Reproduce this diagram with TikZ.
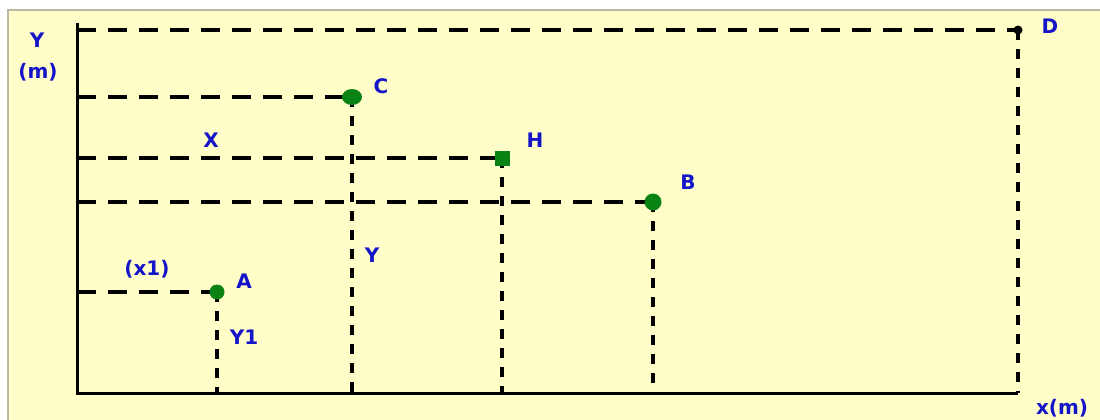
\documentclass[tikz,border=0pt]{standalone}
\usepackage{fontspec}
\setmainfont{DejaVu Sans}
\usetikzlibrary{shapes.geometric}
\begin{document}
\begin{tikzpicture}[x=1pt,y=-1pt,
  lbl/.style={text=lblblue,font=\bfseries\fontsize{20}{20}\selectfont,inner sep=0pt},
  hdash/.style={line width=3.4pt,dash pattern=on 19pt off 12pt},
  vdash/.style={line width=3.4pt,dash pattern=on 10pt off 9pt},
  axisline/.style={line width=3pt},
  gdot/.style={circle,fill=ptgreen,inner sep=0pt,minimum size=#1},
  gsq/.style={rectangle,fill=ptgreen,inner sep=0pt,minimum size=15pt}]
\definecolor{bg}{RGB}{255,253,200}
\definecolor{frame}{RGB}{185,185,165}
\definecolor{lblblue}{RGB}{20,20,200}
\definecolor{ptgreen}{RGB}{10,130,20}
\useasboundingbox (0,0) rectangle (1100,420);
\fill[white] (0,0) rectangle (1100,420);
\fill[bg] (8,10) rectangle (1100,420);
\draw[frame,line width=1.5pt] (8,420) -- (8,10) -- (1100,10);
% axes
\coordinate (O) at (77,393);
\coordinate (Ytop) at (77,23);
\coordinate (Xend) at (1018,393);
% points
\coordinate (pA) at (217,292);
\coordinate (pC) at (352,97);
\coordinate (pH) at (502,158);
\coordinate (pB) at (653,202);
\coordinate (pD) at (1018,30);
% dashed guides
\foreach \p in {pA,pC,pH,pB,pD}{
  \draw[hdash] (O |- \p) -- (\p);
  \draw[vdash] (\p) -- (\p |- O);
}
\draw[axisline] (Ytop) -- (O) -- (Xend);
% markers
\node[ellipse,fill=ptgreen,inner sep=0pt,minimum width=20pt,minimum height=16pt] (C) at (pC) {};
\node[gdot=15pt] (A) at (pA) {};
\node[gdot=17pt] (B) at (pB) {};
\node[gsq] (H) at (pH) {};
\node[circle,fill=black,inner sep=0pt,minimum size=9pt] (D) at (pD) {};
% labels
\node[lbl] (lY) at (37,40) {Y};
\node[lbl] (lm) at (38,72) {(m)};
\node[lbl] (lC) at (381,86) {C};
\node[lbl] (lX) at (211,140) {X};
\node[lbl] (lH) at (535,140) {H};
\node[lbl] (lB) at (688,182) {B};
\node[lbl] (lx1) at (147,269) {(x1)};
\node[lbl] (lA) at (244,281) {A};
\node[lbl] (lY1) at (244,337) {Y1};
\node[lbl] (lYY) at (372,255) {Y};
\node[lbl] (lD) at (1050,26) {D};
\node[lbl] (lxm) at (1062,408) {x(m)};
\end{tikzpicture}
\end{document}
